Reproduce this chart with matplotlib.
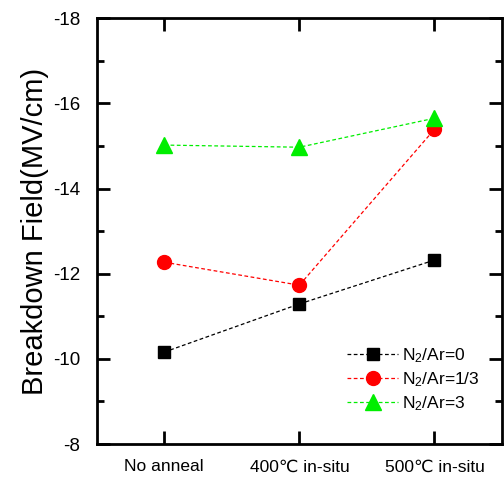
import matplotlib
matplotlib.use("Agg")
import matplotlib.pyplot as plt
from matplotlib.ticker import MultipleLocator

plt.rcParams['font.family'] = ['Liberation Sans', 'DejaVu Sans']
plt.rcParams['axes.unicode_minus'] = False
plt.rcParams['mathtext.fontset'] = 'custom'
plt.rcParams['mathtext.rm'] = 'Liberation Sans'
plt.rcParams['mathtext.it'] = 'Liberation Sans'

categories = ["No anneal", "400\u2103 in-situ", "500\u2103 in-situ"]
series_labels = [r"N$_2$/Ar=0", r"N$_2$/Ar=1/3", r"N$_2$/Ar=3"]
ar0 = [-10.16, -11.29, -12.32]
ar13 = [-12.27, -11.73, -15.39]
ar3 = [-15.02, -14.97, -15.65]

fig = plt.figure(figsize=(5.04, 4.78), dpi=100)
ax = fig.add_axes([0.192, 0.071, 0.804, 0.891])

x = list(range(len(categories)))
ax.plot(x, ar0, ls=(0, (3, 2)), lw=0.9, color='black', marker='s', ms=8.5,
        mfc='black', mec='black', label=series_labels[0])
ax.plot(x, ar13, ls=(0, (3, 2)), lw=0.9, color='red', marker='o', ms=10,
        mfc='red', mec='red', label=series_labels[1])
ax.plot(x, ar3, ls=(0, (3, 2)), lw=0.9, color='#00ee00', marker='^', ms=11,
        mfc='#00ee00', mec='#00ee00', label=series_labels[2])

ax.set_xlim(-0.5, 2.5)
ax.set_ylim(-8, -18)
ax.set_xticks(x)
ax.set_xticklabels(categories, fontsize=12.5)
ax.yaxis.set_major_locator(MultipleLocator(2))
ax.yaxis.set_minor_locator(MultipleLocator(1))
ax.tick_params(axis='y', which='major', direction='in', length=9.5, width=2,
               labelsize=13.5, right=True, pad=12)
ax.tick_params(axis='y', which='minor', direction='in', length=5, width=2, right=True)
ax.tick_params(axis='x', which='major', direction='in', length=9.5, width=2,
               top=True, pad=11)
for s in ax.spines.values():
    s.set_linewidth(2)

ax.set_ylabel("Breakdown Field(MV/cm)", fontsize=21, labelpad=3)

leg = ax.legend(loc='lower right', bbox_to_anchor=(0.975, 0.045), frameon=False,
                fontsize=12.5, handlelength=2.9, handletextpad=0.25,
                labelspacing=0.3, borderaxespad=0.3)

fig.savefig("out.png", dpi=100)
